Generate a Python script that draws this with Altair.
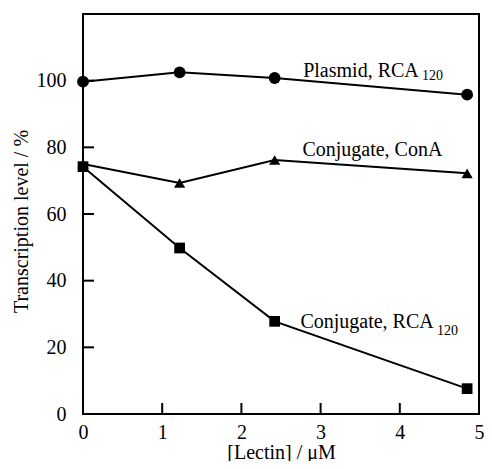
import altair as alt
import pandas as pd

# ---- data ----
lectin = [0.0, 1.22, 2.42, 4.85]
plasmid_rca = [99.7, 102.5, 100.8, 95.8]
conjugate_cona = [75.0, 69.3, 76.2, 72.2]
conjugate_rca = [74.2, 49.8, 27.8, 7.6]

x_tick_values = [0, 1, 2, 3, 4, 5]
y_tick_values = [0, 20, 40, 60, 80, 100]
x_inner_ticks = [1, 2, 3, 4]
y_inner_ticks = [20, 40, 60, 80, 100]

label_text = ["Plasmid, RCA", "Conjugate, ConA", "Conjugate, RCA"]
label_x = [2.78, 2.77, 2.745]
label_y = [101.1, 77.4, 25.8]
sub_text = ["120", "120"]
sub_x = [4.28, 4.47]
sub_y = [100.2, 23.7]

FONT = "Liberation Serif"

xs = alt.Scale(domain=[0, 5], nice=False)
ys = alt.Scale(domain=[0, 120], nice=False)

common_axis = dict(format="d", labelFont=FONT, labelFontSize=20, labelColor="black",
                   titleFont=FONT, titleFontSize=20, titleFontWeight="normal",
                   titleColor="black", titleBaseline="alphabetic", labelFlush=False)

x_axis = alt.Axis(values=x_tick_values, title="[Lectin] / μM",
                  labelPadding=24, labelBaseline="alphabetic",
                  titleX=198, titleY=44, **common_axis)
y_axis = alt.Axis(values=y_tick_values, title="Transcription level / %",
                  labelPadding=17, titleX=-56, titleY=207, **common_axis)


def X(field):
    return alt.X(f"{field}:Q", scale=xs, axis=x_axis)


def Y(field):
    return alt.Y(f"{field}:Q", scale=ys, axis=y_axis)


def series(values, shape, size):
    df = pd.DataFrame({"x": lectin, "y": values})
    base = alt.Chart(df)
    line = base.mark_line(color="black", strokeWidth=2).encode(x=X("x"), y=Y("y"))
    pts = base.mark_point(shape=shape, filled=True, color="black", opacity=1, size=size).encode(
        x=X("x"), y=Y("y"))
    return [line, pts]


layers = []
layers += series(plasmid_rca, "circle", 140)
layers += series(conjugate_cona, "triangle-up", 125)
layers += series(conjugate_rca, "square", 115)

xt = alt.Chart(pd.DataFrame({"t": x_inner_ticks})).mark_rule(color="black", strokeWidth=2).encode(
    x=X("t"), y=alt.value(400), y2=alt.value(389))
yt = alt.Chart(pd.DataFrame({"t": y_inner_ticks})).mark_rule(color="black", strokeWidth=2).encode(
    y=Y("t"), x=alt.value(0), x2=alt.value(11))

labels = alt.Chart(pd.DataFrame({"x": label_x, "y": label_y, "text": label_text})).mark_text(
    align="left", baseline="alphabetic", font=FONT, fontSize=20, color="black").encode(
    x=X("x"), y=Y("y"), text="text:N")
subs = alt.Chart(pd.DataFrame({"x": sub_x, "y": sub_y, "text": sub_text})).mark_text(
    align="left", baseline="alphabetic", font=FONT, fontSize=14, color="black").encode(
    x=X("x"), y=Y("y"), text="text:N")

chart = alt.layer(xt, yt, *layers, labels, subs).properties(
    width=396, height=400,
    autosize=alt.AutoSizeParams(type="none"),
    padding={"left": 75, "top": 6, "right": 5, "bottom": 47},
).configure_view(stroke="black", strokeWidth=2).configure_axis(
    domain=False, ticks=False, grid=False,
    labelFont=FONT, labelFontSize=20, labelColor="black",
    titleFont=FONT, titleFontSize=20, titleFontWeight="normal", titleColor="black",
)

chart.save("out.html", embed_options={"renderer": "svg", "actions": False})
